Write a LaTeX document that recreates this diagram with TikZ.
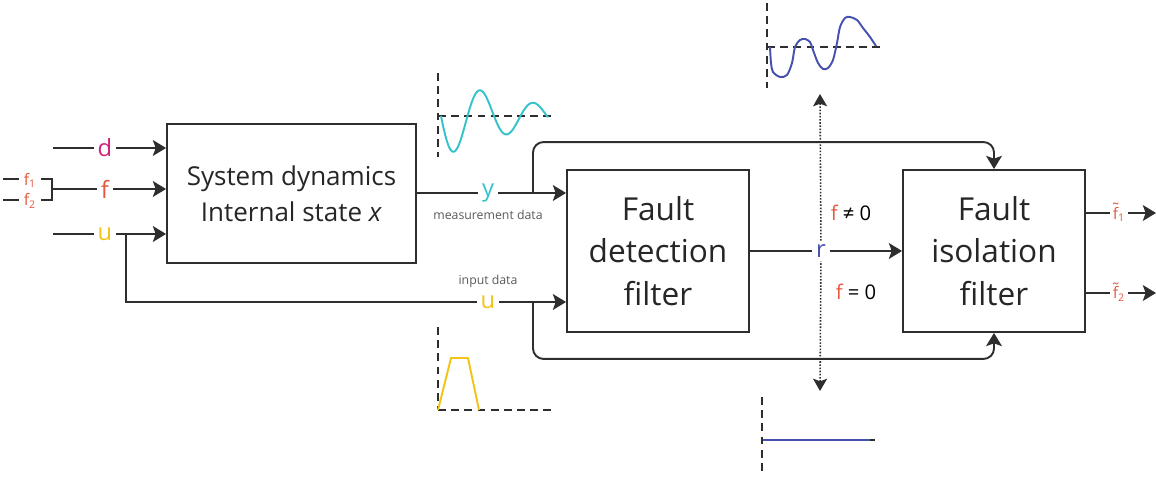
\documentclass[tikz,border=0pt]{standalone}
\usepackage{fontspec}
\setmainfont{Open Sans}
\usepackage{tikz}
\usetikzlibrary{positioning,calc,arrows.meta}
\definecolor{sigd}{HTML}{D3217B}
\definecolor{sigf}{HTML}{E4573D}
\definecolor{sigu}{HTML}{F2C318}
\definecolor{sigy}{HTML}{35C3CB}
\definecolor{sigr}{HTML}{4650AE}
\definecolor{wirec}{HTML}{2E2E2E}
\newcommand{\ftil}[1]{\ooalign{f\cr\hidewidth\raisebox{0.5ex}{˜}\hidewidth\cr}\textsubscript{#1}}

\begin{document}
\begin{tikzpicture}[x=0.02cm, y=-0.02cm,
  block/.style={draw=wirec, line width=1.1pt, align=center, inner sep=0pt, text=black!85},
  wire/.style={draw=wirec, line width=1.1pt},
  sig/.style={wire, -{Stealth[length=7.5pt,width=9pt,inset=1.6pt]}},
  probe/.style={draw=wirec, line width=0.9pt, dash pattern=on 0.9pt off 0.9pt,
    {Stealth[length=7pt,width=8pt,inset=1.5pt]}-},
  lbl/.style={font=\fontsize{13.5}{15}\selectfont, inner sep=2pt},
  small/.style={font=\fontsize{9}{10}\selectfont, inner sep=2.5pt},
  note/.style={font=\fontsize{7}{8}\selectfont, text=black!65, inner sep=1pt},
  axis/.style={draw=wirec, line width=0.8pt, dash pattern=on 4.5pt off 3pt},
  curve/.style={line width=1.1pt},
]
\useasboundingbox (0,0) rectangle (1156,479);

% ---------- blocks ----------
\node[block, minimum width=4.98cm, minimum height=2.78cm,
  font=\fontsize{14.8}{20.5}\selectfont] (sys) at (291.5,193.5)
  {System dynamics\\Internal state \textit{x}};
\node[block, minimum width=3.64cm, minimum height=3.24cm,
  font=\fontsize{18}{24}\selectfont] (fd) at (658,251)
  {Fault\\detection\\filter};
\node[block, minimum width=3.64cm, minimum height=3.24cm,
  font=\fontsize{18}{24}\selectfont] (iso) at (994,251)
  {Fault\\isolation\\filter};

% ---------- inputs d, f, u ----------
\coordinate (din) at (53,148);
\node[lbl, text=sigd] (d) at (105,148) {d};
\draw[wire] (din) -- (d);
\draw[sig] (d) -- (d -| sys.west);

\coordinate (f1in) at (3,179);
\coordinate (f2in) at (3,200);
\node[small, text=sigf] (f1) at (30,180) {f\textsubscript{1}};
\node[small, text=sigf] (f2) at (30,201) {f\textsubscript{2}};
\coordinate (fj) at (52,189);
\draw[wire] (f1in) -- (f1in -| f1.west);
\draw[wire] (f2in) -- (f2in -| f2.west);
\draw[wire] (f1in -| f1.east) -| (fj);
\draw[wire] (f2in -| f2.east) -| (fj);
\node[lbl, text=sigf] (f) at (105,189) {f};
\draw[wire] (fj) -- (f);
\draw[sig] (f) -- (f -| sys.west);

\coordinate (uin) at (53,234);
\node[lbl, text=sigu] (u) at (105,234) {u};
\draw[wire] (uin) -- (u);
\draw[sig] (u) -- (u -| sys.west);

% ---------- measurement and input data ----------
\node[lbl, text=sigy] (y) at (488,193) {y};
\node[note, below=1pt of y] (ymeas) {measurement data};
\draw[wire] (sys.east |- y) -- (y);
\draw[sig] (y) -- (y -| fd.west);

\coordinate (ub) at (126,234);
\node[lbl, text=sigu] (u2) at (488,302) {u};
\node[note, above=1pt of u2] (uin2) {input data};
\draw[wire] (ub) |- (u2);
\draw[sig] (u2) -- (u2 -| fd.west);

% bypass to isolation filter
\coordinate (yb) at (533,193);
\coordinate (ub2) at (533,302);
\draw[sig, rounded corners=6pt] (yb) |- ($(iso.north)+(0,-27)$) -- (iso.north);
\draw[sig, rounded corners=6pt] (ub2) |- ($(iso.south)+(0,26)$) -- (iso.south);

% ---------- residual ----------
\node[lbl, text=sigr] (r) at (821,251) {r};
\draw[wire] (fd.east) -- (r);
\draw[sig] (r) -- (iso.west);
\coordinate (rup) at (820,94);
\coordinate (rdn) at (820,391);
\draw[probe] (rup) -- (r);
\draw[probe] (rdn) -- (r);
\node[lbl, font=\fontsize{11.5}{13}\selectfont] (fne) at (851,213) {\textcolor{sigf}{f} ≠ 0};
\node[lbl, font=\fontsize{11.5}{13}\selectfont] (feq) at (856,292) {\textcolor{sigf}{f} = 0};

% ---------- outputs ----------
\node[small, text=sigf, inner sep=1.5pt] (o1) at (1119,214) {\ftil{1}};
\node[small, text=sigf, inner sep=1.5pt] (o2) at (1119,294) {\ftil{2}};
\coordinate (o1e) at (1156,213);
\coordinate (o2e) at (1156,293);
\draw[wire] (o1e -| iso.east) -- (o1e -| o1.west);
\draw[wire] (o2e -| iso.east) -- (o2e -| o2.west);
\draw[sig] (o1e -| o1.east) -- (o1e);
\draw[sig] (o2e -| o2.east) -- (o2e);

% ---------- signal sketches ----------
% y: decaying oscillation
\draw[axis] (438,73) -- (438,157);
\draw[axis] (438,116) -- (555,116);
\draw[curve, sigy] plot[domain=441:548, samples=90, smooth]
  (\x, {116 + 42*exp(-0.0125*(\x-441))*sin(6.7925*(\x-441))});
% u: pulse
\draw[axis] (438,327) -- (438,410);
\draw[axis] (438,410) -- (553,410);
\draw[curve, sigu, line join=round] (438,410) -- (451,358) -- (468,358) -- (479,410);
% r, f != 0
\draw[axis] (767,3) -- (767,88);
\draw[axis] (767,47) -- (885,47);
\draw[curve, sigr] plot[smooth, tension=0.5] coordinates {(770,47) (771,63) (773,72) (780,77)
  (787,75) (792,63) (795,47) (800,40) (805,39) (810,42) (813,50) (818,63) (823,69) (828,68)
  (833,60) (837,43) (840,27) (845,18) (850,17) (857,20) (863,28) (870,37) (876,46)};
% r, f = 0
\draw[axis] (762,397) -- (762,473);
\draw[axis] (762,440) -- (878,440);
\draw[curve, sigr] (763,440) -- (870,440);
\end{tikzpicture}
\end{document}
